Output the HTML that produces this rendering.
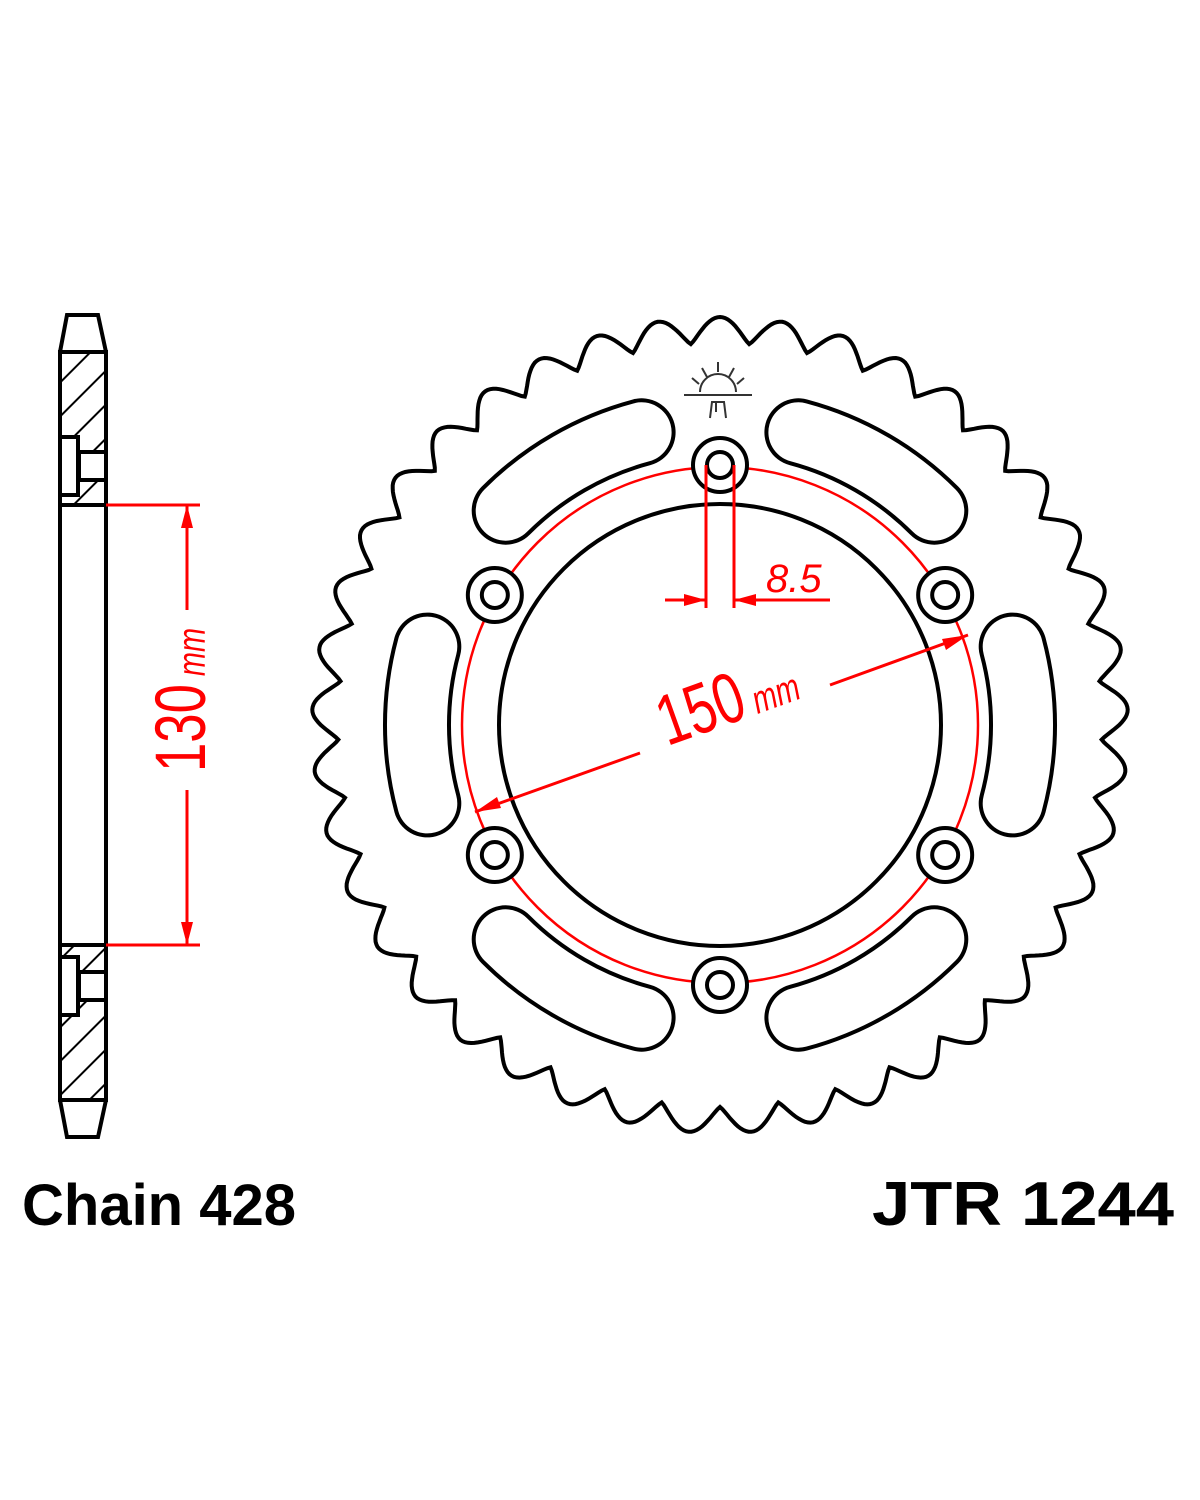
<!DOCTYPE html>
<html><head><meta charset="utf-8"><style>
html,body{margin:0;padding:0;background:#fff;}
svg{display:block;}
</style></head><body>
<svg id="s" width="1200" height="1500" viewBox="0 0 1200 1500" xmlns="http://www.w3.org/2000/svg">
<defs>
<pattern id="h" patternUnits="userSpaceOnUse" width="24" height="24" patternTransform="rotate(-45)">
<rect width="24" height="24" fill="#fff"/><line x1="0" y1="0" x2="24" y2="0" stroke="#000" stroke-width="4"/>
</pattern>
</defs>
<!-- side view -->
<g stroke="#000" stroke-width="4" fill="none">
<rect x="60" y="352" width="46" height="153" fill="url(#h)"/>
<rect x="60" y="945" width="46" height="155" fill="url(#h)"/>
<path d="M60 352 L67 315 L98 315 L106 352" fill="#fff"/>
<path d="M60 1100 L67 1137 L98 1137 L106 1100" fill="#fff"/>
<line x1="60" y1="352" x2="106" y2="352"/><line x1="60" y1="1100" x2="106" y2="1100"/>
<line x1="60" y1="352" x2="60" y2="1100"/><line x1="106" y1="352" x2="106" y2="1100"/>
<rect x="60" y="437" width="18" height="58" fill="#fff"/>
<rect x="79" y="452" width="27" height="28" fill="#fff"/>
<line x1="60" y1="505" x2="106" y2="505"/>
<line x1="60" y1="945" x2="106" y2="945"/>
<rect x="60" y="957" width="18" height="58" fill="#fff"/>
<rect x="79" y="972" width="27" height="28" fill="#fff"/>
</g>
<g stroke="#f00" stroke-width="3" fill="#f00">
<line x1="106" y1="505" x2="200" y2="505"/>
<line x1="106" y1="945" x2="200" y2="945"/>
<line x1="187" y1="505" x2="187" y2="610"/>
<line x1="187" y1="790" x2="187" y2="945"/>
<path d="M187 505 L181 528 L193 528Z" stroke="none"/>
<path d="M187 945 L181 922 L193 922Z" stroke="none"/>
</g>
<text transform="translate(205,700) rotate(-90) scale(0.85,1.15)" text-anchor="middle" font-family="Liberation Sans, sans-serif" fill="#f00" font-size="62">130<tspan font-size="34" font-style="italic"> mm</tspan></text>
<!-- sprocket -->
<path id="teeth" d="" fill="none" stroke="#000" stroke-width="4"/>
<g id="slots"></g>
<circle cx="720" cy="725" r="221" fill="none" stroke="#000" stroke-width="4"/>
<circle cx="720" cy="725" r="258" fill="none" stroke="#f00" stroke-width="2.5"/>
<g id="bolts" fill="none" stroke="#000" stroke-width="4"></g>
<!-- logo -->
<g stroke="#333" stroke-width="2" fill="none">
<path d="M700 392 A18 18 0 0 1 736 392"/>
<line x1="684" y1="395" x2="752" y2="395"/>
<line x1="718" y1="362" x2="718" y2="372"/><line x1="702" y1="368" x2="707" y2="377"/><line x1="734" y1="368" x2="729" y2="377"/>
<line x1="692" y1="378" x2="699" y2="384"/><line x1="744" y1="378" x2="737" y2="384"/>
<path d="M710 418 L712 402 L724 402 L726 418 M716 402 L716 412"/>
</g>
<!-- 8.5 dim -->
<g stroke="#f00" stroke-width="3" fill="#f00">
<line x1="706" y1="465" x2="706" y2="608"/>
<line x1="734" y1="465" x2="734" y2="608"/>
<line x1="665" y1="600" x2="706" y2="600"/>
<line x1="734" y1="600" x2="830" y2="600"/>
<path d="M706 600 L684 594 L684 606Z" stroke="none"/>
<path d="M734 600 L756 594 L756 606Z" stroke="none"/>
</g>
<text x="766" y="592" font-family="Liberation Sans, sans-serif" font-style="italic" fill="#f00" font-size="40">8.5</text>
<!-- 150 dim -->
<g stroke="#f00" stroke-width="3" fill="#f00">
<line x1="475" y1="812" x2="640" y2="753"/>
<line x1="830" y1="685" x2="968" y2="635"/>
<path d="M475 812 L497 797 L501 808Z" stroke="none"/>
<path d="M968 635 L946 650 L942 639Z" stroke="none"/>
</g>
<text transform="translate(735,722) rotate(-19.7) scale(0.85,1.15)" text-anchor="middle" font-family="Liberation Sans, sans-serif" fill="#f00" font-size="62">150<tspan font-size="34" font-style="italic"> mm</tspan></text>
<text x="22" y="1225" font-family="Liberation Sans, sans-serif" font-weight="bold" font-size="58">Chain 428</text>
<text x="872" y="1225" font-family="Liberation Sans, sans-serif" font-weight="bold" font-size="62" textLength="302" lengthAdjust="spacingAndGlyphs">JTR 1244</text>
</svg>
<script>
var cx=720,cy=725,N=41,Rt=408,Rr=382,d="";
var steps=N*24;
for(var i=0;i<=steps;i++){var p=i/24;var th=-Math.PI/2+p*2*Math.PI/N;var ph=p-Math.floor(p);
var f=(1+Math.cos(2*Math.PI*ph))/2;f=Math.pow(f,0.6);var r=Rr+(Rt-Rr)*f;
d+=(i?"L":"M")+(cx+r*Math.cos(th)).toFixed(1)+" "+(cy+r*Math.sin(th)).toFixed(1);}
document.getElementById("teeth").setAttribute("d",d+"Z");
var ns="http://www.w3.org/2000/svg",sl=document.getElementById("slots"),bo=document.getElementById("bolts");
function pt(r,a){a=a*Math.PI/180;return (cx+r*Math.cos(a)).toFixed(1)+" "+(cy-r*Math.sin(a)).toFixed(1);}
for(var k=0;k<6;k++){var c=k*60,a1=c-15,a2=c+15,R=303;
var dd="M"+pt(R,a1)+" A"+R+" "+R+" 0 0 0 "+pt(R,a2);
var p1=document.createElementNS(ns,"path");p1.setAttribute("d",dd);p1.setAttribute("fill","none");p1.setAttribute("stroke","#000");p1.setAttribute("stroke-width","68");p1.setAttribute("stroke-linecap","round");sl.appendChild(p1);
var p2=p1.cloneNode();p2.setAttribute("stroke","#fff");p2.setAttribute("stroke-width","60");sl.appendChild(p2);
var b=c+30,bx=cx+260*Math.cos(b*Math.PI/180),by=cy-260*Math.sin(b*Math.PI/180);
var w=document.createElementNS(ns,"circle");w.setAttribute("cx",bx);w.setAttribute("cy",by);w.setAttribute("r",26);w.setAttribute("fill","#fff");w.setAttribute("stroke","none");bo.appendChild(w);
[27,13].forEach(function(r){var ci=document.createElementNS(ns,"circle");ci.setAttribute("cx",bx);ci.setAttribute("cy",by);ci.setAttribute("r",r);bo.appendChild(ci);});}
</script>
</body></html>
